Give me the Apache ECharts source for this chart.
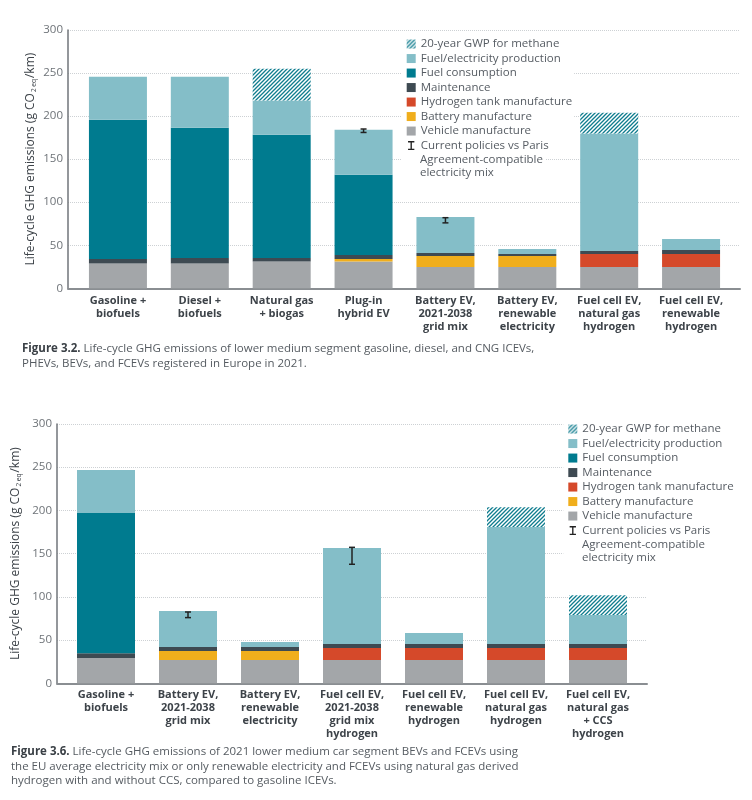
<!DOCTYPE html>
<html>
<head>
<meta charset="utf-8">
<script src="https://cdn.jsdelivr.net/npm/echarts@6/dist/echarts.min.js"></script>
<style>
html,body{margin:0;padding:0;background:#fff;}
#chart{width:752px;height:800px;}
</style>
</head>
<body>
<div id="chart"></div>
<script>
// ---------- Figure 3.2 data ----------
const categories1 = ['Gasoline +\nbiofuels', 'Diesel +\nbiofuels', 'Natural gas\n+ biogas', 'Plug-in\nhybrid EV',
  'Battery EV,\n2021-2038\ngrid mix', 'Battery EV,\nrenewable\nelectricity', 'Fuel cell EV,\nnatural gas\nhydrogen', 'Fuel cell EV,\nrenewable\nhydrogen'];
const vehicle1  = [28.7, 28.7, 31, 31, 24.8, 24.8, 24.8, 24.8];
const battery1  = [0, 0, 0, 3.1, 12.8, 12.8, 0, 0];
const tank1     = [0, 0, 0, 0, 0, 0, 15.1, 15.1];
const maint1    = [5.4, 6.6, 4.3, 4.7, 3.5, 2.3, 3.5, 4.7];
const fuelCons1 = [161.6, 151.1, 143, 93, 0, 0, 0, 0];
const prod1     = [50, 59.3, 39.9, 52.3, 41.8, 5.8, 136.4, 12.8];
const gwp1      = [0, 0, 36.8, 0, 0, 0, 24.1, 0];
const errLow1   = [null, null, null, 181, 76, null, null, null];
const errHigh1  = [null, null, null, 185, 82, null, null, null];

// ---------- Figure 3.6 data ----------
const categories2 = ['Gasoline +\nbiofuels', 'Battery EV,\n2021-2038\ngrid mix', 'Battery EV,\nrenewable\nelectricity',
  'Fuel cell EV,\n2021-2038\ngrid mix\nhydrogen', 'Fuel cell EV,\nrenewable\nhydrogen', 'Fuel cell EV,\nnatural gas\nhydrogen',
  'Fuel cell EV,\nnatural gas\n+ CCS\nhydrogen'];
const vehicle2  = [29.3, 27, 27, 27, 27, 27, 27];
const battery2  = [0, 10.4, 10.4, 0, 0, 0, 0];
const tank2     = [0, 0, 0, 13.9, 13.9, 13.9, 13.9];
const maint2    = [5.4, 4.6, 4.6, 4.6, 4.6, 4.6, 4.6];
const fuelCons2 = [162.4, 0, 0, 0, 0, 0, 0];
const prod2     = [49.7, 41.7, 5.8, 111.1, 12.7, 135.4, 33.6];
const gwp2      = [0, 0, 0, 0, 0, 22.7, 22.7];
const errLow2   = [null, 76, null, 137.7, null, null, null];
const errHigh2  = [null, 82.5, null, 157.3, null, null, null];

const yTicks = [0, 50, 100, 150, 200, 250, 300];

const NAMES = {
  gwp: '20-year GWP for methane',
  prod: 'Fuel/electricity production',
  fuel: 'Fuel consumption',
  maint: 'Maintenance',
  tank: 'Hydrogen tank manufacture',
  battery: 'Battery manufacture',
  vehicle: 'Vehicle manufacture',
  err: 'Current policies vs Paris Agreement-compatible electricity mix'
};

const FONT = '"Open Sans", "DejaVu Sans", sans-serif';
const COLORS = {
  vehicle: '#a3a6a9', battery: '#f0ae1c', tank: '#d5492a', maint: '#3e4a52',
  fuel: '#007b8f', prod: '#84bec8', hatch: '#0e7c8e'
};

function makeHatch() {
  const c = document.createElement('canvas');
  c.width = 4; c.height = 4;
  const ctx = c.getContext('2d');
  ctx.fillStyle = '#ffffff';
  ctx.fillRect(0, 0, 4, 4);
  ctx.strokeStyle = COLORS.hatch;
  ctx.lineWidth = 1.3;
  ctx.beginPath();
  ctx.moveTo(-1, 5); ctx.lineTo(5, -1);
  ctx.moveTo(-1, 1); ctx.lineTo(1, -1);
  ctx.moveTo(3, 5); ctx.lineTo(5, 3);
  ctx.stroke();
  return {image: c, repeat: 'repeat'};
}
const hatch = makeHatch();

const chart = echarts.init(document.getElementById('chart'), null, {renderer: 'canvas'});

function axesPair(gridA, gridB, catData, labelMargin, nameGap) {
  return {
    xAxis: [
      {gridIndex: gridA, type: 'value', min: 0, max: 1, show: true,
       axisLine: {show: true, onZero: false, lineStyle: {color: '#8a8e92', width: 2}},
       axisTick: {show: false}, axisLabel: {show: false}, splitLine: {show: false}},
      {gridIndex: gridB, type: 'category', data: catData,
       axisLine: {show: false}, axisTick: {show: false},
       axisLabel: {interval: 0, margin: labelMargin, color: '#3d4349', fontFamily: FONT,
                   fontSize: 11, fontWeight: 'bold', lineHeight: 13}}
    ],
    yAxis: [
      {gridIndex: gridA, type: 'value', min: 0, max: 300, interval: 50,
       axisLine: {show: true, lineStyle: {color: '#70757a', width: 1.5}},
       axisTick: {show: false},
       axisLabel: {color: '#6e7378', fontFamily: FONT, fontSize: 11.5, margin: 5},
       splitLine: {show: true, lineStyle: {color: '#cdd1d4', type: 'dotted', width: 1}},
       name: 'Life-cycle GHG emissions (g CO{s|2 eq}/km)',
       nameLocation: 'middle', nameGap: nameGap, nameMoveOverlap: false,
       nameTextStyle: {color: '#3d4349', fontFamily: FONT, fontSize: 12, lineHeight: 15,
         rich: {s: {fontSize: 6.5, fontFamily: FONT, color: '#3d4349', verticalAlign: 'bottom', lineHeight: 15, padding: [0, 1, 0, 1]}}}},
      {gridIndex: gridB, type: 'value', min: 0, max: 300, interval: 50, show: false}
    ]
  };
}

const ax1 = axesPair(0, 1, categories1, 6, 30);
const ax2 = axesPair(2, 3, categories2, 5, 34);

function barSeries(axisIdx, stackId, arrs) {
  const defs = [
    ['vehicle', arrs.vehicle, COLORS.vehicle],
    ['battery', arrs.battery, COLORS.battery],
    ['tank', arrs.tank, COLORS.tank],
    ['maint', arrs.maint, COLORS.maint],
    ['fuel', arrs.fuel, COLORS.fuel],
    ['prod', arrs.prod, COLORS.prod],
    ['gwp', arrs.gwp, hatch]
  ];
  return defs.map(([key, data, color]) => ({
    type: 'bar', name: NAMES[key], stack: stackId,
    xAxisIndex: axisIdx, yAxisIndex: axisIdx,
    barWidth: 58, data: data,
    itemStyle: {color: color},
    emphasis: {disabled: true}
  }));
}

function errSeries(axisIdx, lows, highs) {
  const data = [];
  lows.forEach((lo, i) => { if (lo != null) data.push([i, lo, highs[i]]); });
  return {
    type: 'custom', name: NAMES.err, xAxisIndex: axisIdx, yAxisIndex: axisIdx,
    itemStyle: {color: '#222'}, z: 5,
    data: data,
    renderItem: function (params, api) {
      const x = api.value(0);
      const p1 = api.coord([x, api.value(1)]);
      const p2 = api.coord([x, api.value(2)]);
      const w = 3;
      const st = {stroke: '#222', lineWidth: 1.5};
      return {type: 'group', children: [
        {type: 'line', shape: {x1: p1[0], y1: p1[1], x2: p2[0], y2: p2[1]}, style: st},
        {type: 'line', shape: {x1: p1[0] - w, y1: p1[1], x2: p1[0] + w, y2: p1[1]}, style: st},
        {type: 'line', shape: {x1: p2[0] - w, y1: p2[1], x2: p2[0] + w, y2: p2[1]}, style: st}
      ]};
    }
  };
}

const ERR_ICON = 'path://M0,0H7V1.5H4.25V8.5H7V10H0V8.5H2.75V1.5H0Z';
const legendData = [NAMES.gwp, NAMES.prod, NAMES.fuel, NAMES.maint, NAMES.tank, NAMES.battery, NAMES.vehicle,
  {name: NAMES.err, icon: ERR_ICON}];

function legendAt(left, top) {
  return {
    data: legendData, orient: 'vertical', left: left, top: top,
    itemWidth: 9, itemHeight: 9, itemGap: 0, icon: 'rect',
    padding: [3, 2, 3, 5], backgroundColor: '#ffffff',
    selectedMode: false,
    formatter: function (n) { return n === NAMES.err ? 'Current policies vs Paris' : n; },
    textStyle: {fontFamily: FONT, fontSize: 11.5, color: '#565c63', lineHeight: 14.5}
  };
}

const captionStyle = {
  fontFamily: FONT, fontSize: 11.5, fontWeight: 'normal', color: '#555b61', lineHeight: 14.5,
  rich: {b: {fontFamily: FONT, fontSize: 11.5, fontWeight: 'bold', color: '#3a4046', lineHeight: 14.5}}
};

const option = {
  animation: false,
  backgroundColor: '#ffffff',
  title: [
    {left: 22, top: 341.5, padding: 0, textStyle: captionStyle,
     text: '{b|Figure 3.2.} Life-cycle GHG emissions of lower medium segment gasoline, diesel, and CNG ICEVs,\nPHEVs, BEVs, and FCEVs registered in Europe in 2021.'},
    {left: 11, top: 744.5, padding: 0, textStyle: captionStyle,
     text: '{b|Figure 3.6.} Life-cycle GHG emissions of 2021 lower medium car segment BEVs and FCEVs using\nthe EU average electricity mix or only renewable electricity and FCEVs using natural gas derived\nhydrogen with and without CCS, compared to gasoline ICEVs.'}
  ],
  grid: [
    {left: 68, right: 12, top: 30, bottom: 511.7},
    {left: 77, right: 20, top: 30, bottom: 511.7},
    {left: 57, right: 105, top: 424, bottom: 116.7},
    {left: 65, right: 113, top: 424, bottom: 116.7}
  ],
  xAxis: ax1.xAxis.concat(ax2.xAxis),
  yAxis: ax1.yAxis.concat(ax2.yAxis),
  legend: [legendAt(401.7, 33.8), legendAt(563.3, 418.8)],
  graphic: [
    {type: 'text', x: 402, y: 152.8, z: 100, silent: true,
     style: {text: 'Agreement-compatible\nelectricity mix', font: '11.5px ' + FONT, fill: '#565c63',
             lineHeight: 13, backgroundColor: '#ffffff', padding: [0, 2, 3, 18]}},
    {type: 'text', x: 563.3, y: 537.8, z: 100, silent: true,
     style: {text: 'Agreement-compatible\nelectricity mix', font: '11.5px ' + FONT, fill: '#565c63',
             lineHeight: 13, backgroundColor: '#ffffff', padding: [0, 2, 3, 18.7]}}
  ],
  series: [].concat(
    barSeries(1, 'c1', {vehicle: vehicle1, battery: battery1, tank: tank1, maint: maint1, fuel: fuelCons1, prod: prod1, gwp: gwp1}),
    [errSeries(1, errLow1, errHigh1)],
    barSeries(3, 'c2', {vehicle: vehicle2, battery: battery2, tank: tank2, maint: maint2, fuel: fuelCons2, prod: prod2, gwp: gwp2}),
    [errSeries(3, errLow2, errHigh2)]
  )
};
chart.setOption(option);
</script>
</body>
</html>
